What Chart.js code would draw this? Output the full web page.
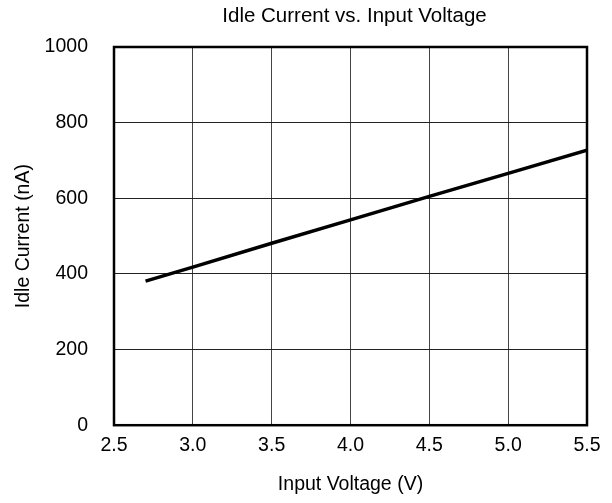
<!DOCTYPE html>
<html>
<head>
<meta charset="utf-8">
<script src="https://cdn.jsdelivr.net/npm/chart.js@4"></script>
<style>
  body { margin: 0; background: #fff; }
  #chart { display: block; }
</style>
</head>
<body>
<canvas id="chart" width="612" height="503"></canvas>
<script>
// Data
const voltages = [2.7, 3.0, 3.5, 4.0, 4.5, 5.0, 5.5];
const idleCurrent = [381, 418, 481, 543, 605, 666, 727];
const xTicks = [2.5, 3.0, 3.5, 4.0, 4.5, 5.0, 5.5];
const yTicks = [0, 200, 400, 600, 800, 1000];
const chartTitle = 'Idle Current vs. Input Voltage';

const points = voltages.map((v, i) => ({ x: v, y: idleCurrent[i] }));

const FONT = '"Liberation Sans", Arial, sans-serif';

// Heavy frame round the plot area, and the title centred over the plot
const frame = {
  id: 'frame',
  afterDatasetsDraw(chart) {
    const a = chart.chartArea;
    const ctx = chart.ctx;
    ctx.save();
    ctx.strokeStyle = '#000';
    ctx.lineWidth = 2.5;
    ctx.strokeRect(a.left, a.top, a.right - a.left, a.bottom - a.top);
    ctx.fillStyle = '#000';
    ctx.font = '20.5px ' + FONT;
    ctx.textAlign = 'center';
    ctx.textBaseline = 'middle';
    ctx.fillText(chartTitle, (a.left + a.right) / 2 + 4, 16);
    ctx.restore();
  }
};

Chart.defaults.font.family = FONT;
Chart.defaults.color = '#000';

new Chart(document.getElementById('chart'), {
  type: 'line',
  data: {
    datasets: [{
      data: points,
      borderColor: '#000',
      borderWidth: 3.5,
      pointRadius: 0,
      fill: false,
      tension: 0
    }]
  },
  options: {
    responsive: false,
    animation: false,
    layout: { padding: { left: 0, right: 25, top: 47, bottom: 3 } },
    plugins: {
      legend: { display: false },
      tooltip: { enabled: false },
      title: { display: false }
    },
    scales: {
      x: {
        type: 'linear',
        min: 2.5,
        max: 5.5,
        afterBuildTicks: axis => { axis.ticks = xTicks.map(v => ({ value: v })); },
        ticks: {
          font: { size: 19.5 },
          padding: 9,
          callback: v => v.toFixed(1)
        },
        grid: { color: '#444', lineWidth: 1, drawTicks: false },
        border: { display: false },
        title: {
          display: true,
          text: 'Input Voltage (V)',
          font: { size: 19.5 },
          padding: { top: 6 }
        }
      },
      y: {
        min: 0,
        max: 1000,
        afterBuildTicks: axis => { axis.ticks = yTicks.map(v => ({ value: v })); },
        afterFit: axis => { axis.width = 114; },
        ticks: {
          font: { size: 19.5 },
          padding: 26,
          callback: v => String(v)
        },
        grid: { color: '#222', lineWidth: 1, drawTicks: false },
        border: { display: false },
        title: {
          display: true,
          text: 'Idle Current (nA)',
          font: { size: 19.5 },
          padding: { top: 12, bottom: 0 }
        }
      }
    }
  },
  plugins: [frame]
});
</script>
</body>
</html>
